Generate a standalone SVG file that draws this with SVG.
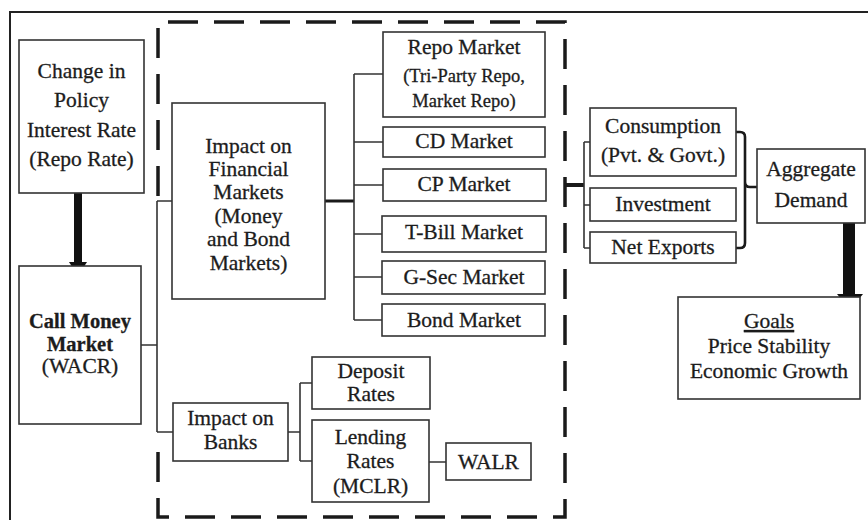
<svg xmlns="http://www.w3.org/2000/svg" width="868" height="520" viewBox="0 0 868 520">
<style>
.box{fill:#fff;stroke:#333;stroke-width:1.6}
.t{font-family:"Liberation Serif","Times New Roman",serif;font-size:21.5px;fill:#1c1c1c;stroke:#1c1c1c;stroke-width:0.3;text-anchor:middle}
.s{font-size:18.5px}
.b{font-weight:bold;font-size:20.5px}
.c{fill:none;stroke:#333;stroke-width:1.6}
.k{fill:none;stroke:#1a1a1a;stroke-width:3}
.d{fill:none;stroke:#1a1a1a;stroke-width:3.5;stroke-dasharray:30 16}
</style>
<rect width="868" height="520" fill="#fff"/>
<rect x="10" y="12" width="900" height="560" fill="none" stroke="#222" stroke-width="2"/>
<path class="d" d="M158,196 V22 H565 V517 H158 V445"/>
<g id="connectors">
<path class="c" d="M141,345 H157 M157,201 V432 M157,201 H172 M157,432 H173"/>
<path class="k" d="M325,201 H354"/>
<path class="c" d="M354,74 V320 M354,74 H383 M354,142 H383 M354,185 H383 M354,234 H382 M354,277 H382 M354,320 H382"/>
<path class="c" d="M288,432 H300 M300,383 V461 M300,383 H312 M300,461 H312 M429,462 H446"/>
<path class="k" d="M565,185 H584" style="stroke-width:4"/>
<path class="c" d="M584,142 V248 M584,142 H590 M584,205 H590 M584,248 H590"/>
<path class="k" d="M736,132 H740 Q745,132 745,137 V182 Q745,187 750,187 H757 M745,182 V243 Q745,248 740,248 H736" style="stroke-width:2.6"/>
<rect x="74" y="193" width="8" height="71" fill="#111"/>
<polygon points="69,262 87,262 78,276" fill="#111"/>
<rect x="843" y="223" width="12" height="73" fill="#111"/>
<polygon points="837,294 863,294 850,310" fill="#111"/>
</g>
<g id="policy"><rect class="box" x="19" y="40" width="125" height="153"/>
<text class="t" x="81.5" y="78">Change in</text><text class="t" x="81.5" y="107">Policy</text><text class="t" x="81.5" y="137">Interest Rate</text><text class="t" x="81.5" y="166">(Repo Rate)</text></g>
<g id="callmoney"><rect class="box" x="19" y="266" width="122" height="158"/>
<text class="t b" x="80" y="328">Call Money</text><text class="t b" x="80" y="351">Market</text><text class="t" x="80" y="373">(WACR)</text></g>
<g id="finmarkets"><rect class="box" x="172" y="103" width="153" height="196"/>
<text class="t" x="248.5" y="153">Impact on</text><text class="t" x="248.5" y="176">Financial</text><text class="t" x="248.5" y="199">Markets</text><text class="t" x="248.5" y="223">(Money</text><text class="t" x="248.5" y="246">and Bond</text><text class="t" x="248.5" y="270">Markets)</text></g>
<g id="banks"><rect class="box" x="173" y="403" width="115" height="58"/>
<text class="t" x="230.5" y="425">Impact on</text><text class="t" x="230.5" y="449">Banks</text></g>
<g id="repo"><rect class="box" x="383" y="32" width="162" height="85"/>
<text class="t" x="464" y="54">Repo Market</text><text class="t s" x="464" y="82">(Tri-Party Repo,</text><text class="t s" x="464" y="107">Market Repo)</text></g>
<g id="cd"><rect class="box" x="383" y="127" width="162" height="30"/><text class="t" x="464" y="148">CD Market</text></g>
<g id="cp"><rect class="box" x="383" y="169" width="163" height="32"/><text class="t" x="464" y="191">CP Market</text></g>
<g id="tbill"><rect class="box" x="382" y="216" width="164" height="36"/><text class="t" x="464" y="239">T-Bill Market</text></g>
<g id="gsec"><rect class="box" x="382" y="261" width="163" height="33"/><text class="t" x="464" y="284">G-Sec Market</text></g>
<g id="bond"><rect class="box" x="382" y="304" width="163" height="32"/><text class="t" x="464" y="327">Bond Market</text></g>
<g id="deposit"><rect class="box" x="312" y="357" width="118" height="52"/>
<text class="t" x="371" y="378">Deposit</text><text class="t" x="371" y="401">Rates</text></g>
<g id="lending"><rect class="box" x="312" y="420" width="117" height="82"/>
<text class="t" x="370.5" y="444">Lending</text><text class="t" x="370.5" y="468">Rates</text><text class="t" x="370.5" y="493">(MCLR)</text></g>
<g id="walr"><rect class="box" x="446" y="443" width="85" height="37"/><text class="t" x="488.5" y="469">WALR</text></g>
<g id="consumption"><rect class="box" x="590" y="108" width="146" height="68"/>
<text class="t" x="663" y="133">Consumption</text><text class="t" x="663" y="162">(Pvt. &amp; Govt.)</text></g>
<g id="investment"><rect class="box" x="590" y="188" width="146" height="33"/><text class="t" x="663" y="211">Investment</text></g>
<g id="netexports"><rect class="box" x="590" y="232" width="146" height="31"/><text class="t" x="663" y="254">Net Exports</text></g>
<g id="aggregate"><rect class="box" x="757" y="149" width="108" height="74"/>
<text class="t" x="811" y="176">Aggregate</text><text class="t" x="811" y="207">Demand</text></g>
<g id="goals"><rect class="box" x="678" y="297" width="182" height="102"/>
<text class="t" x="769" y="328" text-decoration="underline">Goals</text><text class="t" x="769" y="353">Price Stability</text><text class="t" x="769" y="378">Economic Growth</text></g>
</svg>
